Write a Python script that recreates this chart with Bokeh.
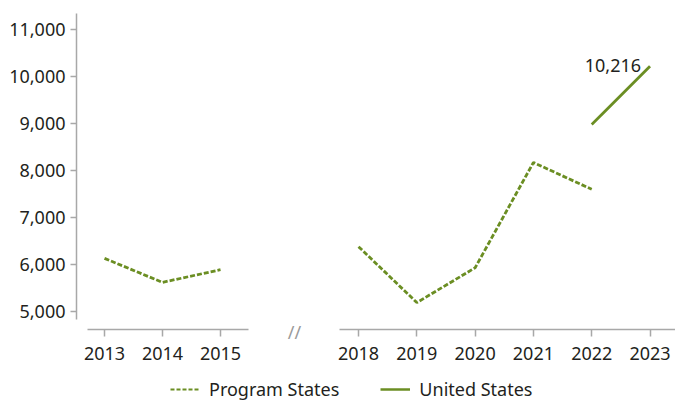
from bokeh.plotting import figure
from bokeh.layouts import column, row
from bokeh.models import FixedTicker, NumeralTickFormatter, Range1d, Legend, LegendItem
from bokeh.core.properties import value
from bokeh.embed import file_html
from bokeh.resources import INLINE

# ---- data ----
years_left = [2013, 2014, 2015]
program_left = [6130, 5620, 5890]
years_right = [2018, 2019, 2020, 2021, 2022, 2023]
program_right_years = [2018, 2019, 2020, 2021, 2022]
program_right = [6380, 5190, 5930, 8170, 7600]
us_years = [2022, 2023]
us_values = [8980, 10216]
y_ticks = [5000, 6000, 7000, 8000, 9000, 10000, 11000]
break_mark = "//"

GREEN = "#6b8e23"
AXIS = "#a8a8a8"
TEXT = "#231f20"
FONT = "Noto Sans"
FS = "18px"

y_range = Range1d(4617, 11404)


def clean(p):
    p.xgrid.visible = False
    p.ygrid.visible = False
    p.outline_line_color = None


def style_axes(p):
    for ax in p.axis:
        ax.axis_line_color = AXIS
        ax.axis_line_width = 1.5
        ax.major_tick_line_color = AXIS
        ax.major_tick_line_width = 1.5
        ax.major_tick_out = 7
        ax.major_tick_in = 0
        ax.minor_tick_line_color = None
        ax.major_label_text_font = FONT
        ax.major_label_text_font_size = FS
        ax.major_label_text_color = TEXT
    clean(p)


# ---- left panel ----
left = figure(width=275, height=369, output_backend="svg", toolbar_location=None,
              x_range=Range1d(2012.517, 2015.948), y_range=y_range,
              min_border_left=76, min_border_right=0, min_border_top=10, min_border_bottom=40)
left.line(years_left, program_left, line_color=GREEN, line_width=2.8, line_dash="5 2")
style_axes(left)
left.xaxis.ticker = FixedTicker(ticks=years_left)
left.xaxis.bounds = (2012.707, 2015.483)
left.xaxis.major_label_standoff = 10
left.yaxis.ticker = FixedTicker(ticks=y_ticks)
left.yaxis.formatter = NumeralTickFormatter(format="0,0")
left.yaxis.bounds = (4830, 11340)
left.yaxis.major_tick_out = 6
left.yaxis.major_label_standoff = 5

# ---- break marker (an axis with a single "//" label) ----
mid = figure(width=40, height=369, output_backend="svg", toolbar_location=None,
             x_range=Range1d(275, 315), y_range=y_range,
             y_axis_location=None,
             min_border_left=0, min_border_right=0, min_border_top=10, min_border_bottom=40)
style_axes(mid)
mid.xaxis.axis_line_color = None
mid.xaxis.major_tick_line_color = None
mid.xaxis.major_tick_out = 0
mid.xaxis.ticker = FixedTicker(ticks=[294])
mid.xaxis.major_label_overrides = {294: break_mark}
mid.xaxis.major_label_standoff = -10
mid.xaxis.major_label_text_color = "#9a9a9a"

# ---- right panel ----
right = figure(width=360, height=369, output_backend="svg", toolbar_location=None,
               x_range=Range1d(2017.262, 2023.437), y_range=y_range, y_axis_location=None,
               min_border_left=0, min_border_right=0, min_border_top=10, min_border_bottom=40)
right.line(program_right_years, program_right, line_color=GREEN, line_width=2.8, line_dash="5 2")
right.line(us_years, us_values, line_color=GREEN, line_width=2.8)
right.text(x=[us_years[-1]], y=[us_values[-1]], text=[f"{us_values[-1]:,}"],
           text_align="right", text_baseline="alphabetic", x_offset=-9, y_offset=-1,
           text_font=value(FONT), text_font_size=FS, text_color=TEXT)
style_axes(right)
right.xaxis.ticker = FixedTicker(ticks=years_right)
right.xaxis.bounds = (2017.674, 2023.437)
right.xaxis.major_label_standoff = 10

# ---- legend strip ----
leg = figure(width=675, height=32, output_backend="svg", toolbar_location=None,
             x_range=Range1d(0, 1), y_range=Range1d(0, 1),
             x_axis_location=None, y_axis_location=None,
             min_border_left=0, min_border_right=0, min_border_top=0, min_border_bottom=0)
clean(leg)
r1 = leg.line([-10, -9], [-10, -9], line_color=GREEN, line_width=2.2, line_dash="4 2")
r2 = leg.line([-10, -9], [-10, -9], line_color=GREEN, line_width=2.5)
legend = Legend(items=[LegendItem(label="Program States", renderers=[r1]),
                       LegendItem(label="United States", renderers=[r2])],
                orientation="horizontal", location=(170, 0),
                glyph_width=30, glyph_height=20, label_standoff=9, spacing=41,
                padding=0, margin=0, border_line_color=None, background_fill_alpha=0,
                label_text_font=FONT, label_text_font_size=FS, label_text_color=TEXT)
leg.add_layout(legend)

layout = column(row(left, mid, right, spacing=0), leg, spacing=0)

open("out.html", "w").write(file_html(layout, INLINE))
